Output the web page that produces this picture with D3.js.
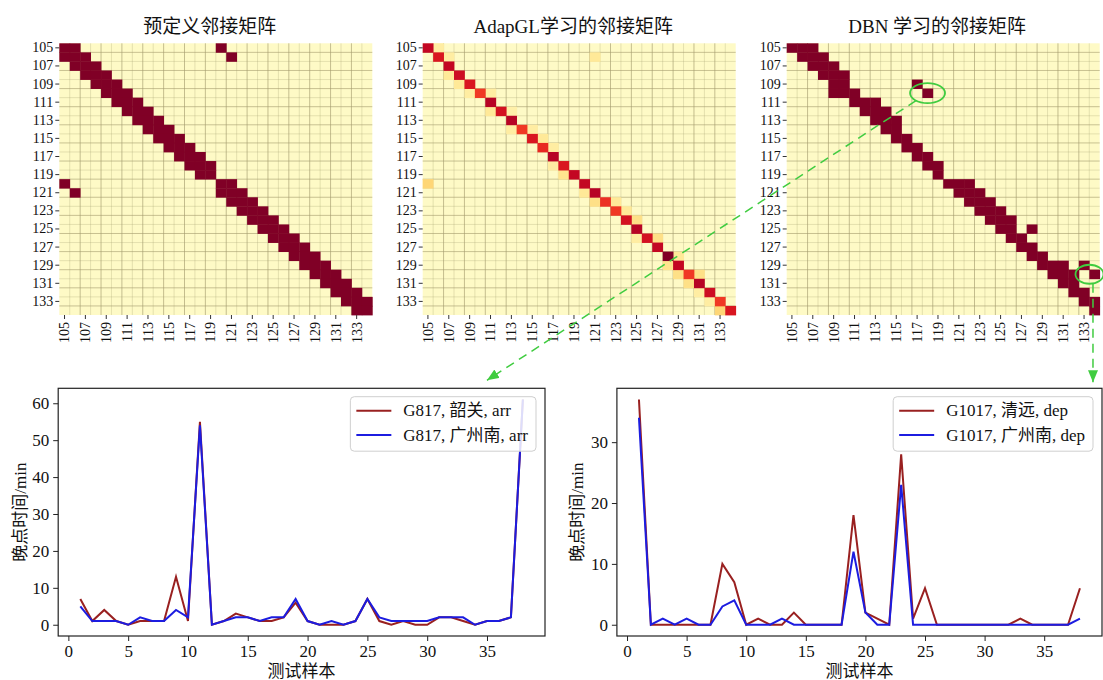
<!DOCTYPE html>
<html><head><meta charset="utf-8">
<script src="https://cdn.jsdelivr.net/npm/d3@7"></script>
<style>
body{margin:0;background:#fff;}
svg{display:block;}
</style></head><body>
<svg id="chart" width="1103" height="680"></svg>
<script>
// ---------------- data ----------------
const nodeIds = [105,106,107,108,109,110,111,112,113,114,115,116,117,118,119,120,121,122,123,124,125,126,127,128,129,130,131,132,133,134];
const tickIds = [105,107,109,111,113,115,117,119,121,123,125,127,129,131,133];

// non-zero columns (by index) per row of the predefined adjacency matrix
const predefinedLinks = [
 [0,1,15],[0,1,2,16],[1,2,3],[2,3,4],[3,4,5],[4,5,6],[5,6,7],[6,7,8],[7,8,9],[8,9,10],
 [9,10,11],[10,11,12],[11,12,13],[12,13,14],[13,14],
 [0,15,16],[1,15,16,17],[16,17,18],[17,18,19],[18,19,20],[19,20,21],[20,21,22],[21,22,23],
 [22,23,24],[23,24,25],[24,25,26],[25,26,27],[26,27,28],[27,28,29],[28,29]
];
// non-zero columns per row of the DBN-learned adjacency matrix
const dbnLinks = [
 [0,1,2],[1,2,3],[2,3,4],[3,4,5],[4,5,12],[4,5,6,13],[6,7,8],[7,8,9],[8,9,10],[9,10],
 [10,11],[11,12],[12,13],[13,14],[14],
 [15,16,17],[16,17,18],[17,18,19],[18,19,20],[19,20,21],[20,21,23],[21,22],[22,23],[23,24],
 [24,25,26,28],[25,26,27,29],[26,27],[27,28],[28,29],[29]
];
// AdapGL-learned weights: diagonal and off-diagonal [row, col, value]
const adapDiag = [0.85,0.78,0.85,0.82,0.78,0.68,0.88,0.8,0.88,0.68,0.78,0.72,0.88,0.78,0.85,
                  0.85,0.88,0.7,0.68,0.8,0.88,0.8,0.85,1.0,0.85,0.68,0.88,0.82,0.68,0.78];
const adapOff = [[0,1,0.12],[1,2,0.12],[1,16,0.15],[3,2,0.15],[4,3,0.15],[5,4,0.12],[5,6,0.12],
 [7,6,0.15],[7,8,0.1],[9,8,0.12],[9,10,0.12],[10,11,0.15],[11,12,0.12],[13,12,0.12],[14,13,0.18],
 [15,0,0.25],[16,15,0.15],[17,16,0.2],[17,18,0.15],[18,19,0.15],[19,20,0.2],[21,20,0.12],[21,22,0.2],
 [23,24,0.15],[24,23,0.18],[25,24,0.2],[25,26,0.2],[26,25,0.2],[27,26,0.12],[28,27,0.12],[29,28,0.25]];

const heatTitles = ["预定义邻接矩阵","AdapGL学习的邻接矩阵","DBN 学习的邻接矩阵"];

const samples = [1,2,3,4,5,6,7,8,9,10,11,12,13,14,15,16,17,18,19,20,21,22,23,24,25,26,27,28,29,30,31,32,33,34,35,36,37,38];
const g817Shaoguan  = [7,1,4,1,0,1,1,1,13,1,55,0,1,3,2,1,1,2,6,1,0,0,0,1,7,1,0,1,0,0,2,2,1,0,1,1,2,61];
const g817Guangzhou = [5,1,1,1,0,2,1,1,4,2,54,0,1,2,2,1,2,2,7,1,0,1,0,1,7,2,1,1,1,1,2,2,2,0,1,1,2,61];
const g1017Qingyuan  = [37,0,0,0,0,0,0,10,7,0,1,0,0,2,0,0,0,0,18,2,1,0,28,1,6,0,0,0,0,0,0,0,1,0,0,0,0,6];
const g1017Guangzhou = [34,0,1,0,1,0,0,3,4,0,0,0,1,0,0,0,0,0,12,2,0,0,23,0,0,0,0,0,0,0,0,0,0,0,0,0,0,1];
const legendLeft  = ["G817, 韶关, arr","G817, 广州南, arr"];
const legendRight = ["G1017, 清远, dep","G1017, 广州南, dep"];
const xTicks = [0,5,10,15,20,25,30,35];
const yTicksLeft = [0,10,20,30,40,50,60];
const yTicksRight = [0,10,20,30];
const yLabel = "晚点时间/min";
const xLabel = "测试样本";
// highlighted DBN cells [row, col]
const highlights = [[5,13],[25,29]];

// ---------------- drawing ----------------
const FONT = '"Liberation Serif","Times New Roman","Noto Sans CJK SC",serif';
const svg = d3.select("#chart");
const color = d3.scaleSequential(d3.interpolateYlOrRd).domain([0,1]);
const RED = "#992020", BLUE = "#1c1ce0", GREEN = "#40cc40";

const heatTop = 43.3, heatBottom = 315, heatW = 313;
const heatLefts = [59.3, 422.7, 786.7];

const linkCells = links => links.flatMap((cols,r)=>cols.map(c=>({r,c,v:1})));
const adapCells = adapOff.map(([r,c,v])=>({r,c,v})).concat(adapDiag.map((v,i)=>({r:i,c:i,v})));
const heatData = [linkCells(predefinedLinks), adapCells, linkCells(dbnLinks)];

const heatScales = [];
heatData.forEach((cells,k)=>{
  const left = heatLefts[k];
  const x = d3.scaleBand().domain(nodeIds).range([left,left+heatW]);
  const y = d3.scaleBand().domain(nodeIds).range([heatTop,heatBottom]);
  heatScales.push({x,y});
  const g = svg.append("g");
  g.append("rect").attr("x",left).attr("y",heatTop).attr("width",heatW)
    .attr("height",heatBottom-heatTop).attr("fill","#fefac6");
  g.selectAll("line.v").data(nodeIds.slice(1)).join("line")
    .attr("x1",d=>x(d)).attr("x2",d=>x(d)).attr("y1",heatTop).attr("y2",heatBottom)
    .attr("stroke","#a29b6c").attr("stroke-width",0.8).attr("stroke-opacity",d=>d%2? 0.8:0.35);
  g.selectAll("line.h").data(nodeIds.slice(1)).join("line")
    .attr("y1",d=>y(d)).attr("y2",d=>y(d)).attr("x1",left).attr("x2",left+heatW)
    .attr("stroke","#a29b6c").attr("stroke-width",0.8).attr("stroke-opacity",d=>d%2? 0.35:0.75);
  g.selectAll("rect.cell").data(cells).join("rect").attr("class","cell")
    .attr("x",d=>x(nodeIds[d.c])).attr("y",d=>y(nodeIds[d.r]))
    .attr("width",x.bandwidth()+0.4).attr("height",y.bandwidth()+0.4)
    .attr("fill",d=>color(d.v));
  const ay = g.append("g").attr("transform",`translate(${left},0)`)
    .call(d3.axisLeft(y).tickValues(tickIds).tickSize(4).tickPadding(2));
  ay.select(".domain").remove();
  ay.attr("font-family",FONT).attr("font-size",14).attr("color","#333");
  ay.selectAll("text").attr("fill","#111");
  const ax = g.append("g").attr("transform",`translate(0,${heatBottom})`)
    .call(d3.axisBottom(x).tickValues(tickIds).tickSize(4).tickPadding(2));
  ax.select(".domain").remove();
  ax.attr("font-family",FONT).attr("font-size",14).attr("color","#333");
  ax.selectAll("text").attr("fill","#111").attr("transform","rotate(-90)")
    .attr("text-anchor","end").attr("x",-7).attr("y",0).attr("dy","0.35em");
  svg.append("text").attr("x",left+heatW/2-6).attr("y",26)
    .attr("text-anchor","middle").attr("dominant-baseline","central")
    .attr("font-family",FONT).attr("font-size",19).attr("fill","#111").text(heatTitles[k]);
});

const axTop = 388.3, axBottom = 636;
function padded(ext){ const m=(ext[1]-ext[0])*0.05; return [ext[0]-m, ext[1]+m]; }

function drawLineChart(cfg){
  const x = d3.scaleLinear().domain(padded(d3.extent(samples))).range([cfg.left,cfg.right]);
  const y = d3.scaleLinear().domain(padded(d3.extent(cfg.series.flat()))).range([axBottom,axTop]);
  const g = svg.append("g");
  g.append("rect").attr("x",cfg.left).attr("y",axTop).attr("width",cfg.right-cfg.left)
    .attr("height",axBottom-axTop).attr("fill","#fff");
  const line = d3.line().x((d,i)=>x(samples[i])).y(d=>y(d));
  cfg.series.forEach((s,i)=>{
    g.append("path").datum(s).attr("d",line).attr("fill","none")
      .attr("stroke",cfg.colors[i]).attr("stroke-width",2).attr("stroke-linejoin","miter");
  });
  g.append("rect").attr("x",cfg.left).attr("y",axTop).attr("width",cfg.right-cfg.left)
    .attr("height",axBottom-axTop).attr("fill","none").attr("stroke","#222").attr("stroke-width",1.2);
  const ax = g.append("g").attr("transform",`translate(0,${axBottom})`)
    .call(d3.axisBottom(x).tickValues(xTicks).tickSize(5).tickPadding(4));
  ax.select(".domain").remove();
  ax.attr("font-family",FONT).attr("font-size",17).attr("color","#222");
  ax.selectAll("text").attr("fill","#111");
  const ay = g.append("g").attr("transform",`translate(${cfg.left},0)`)
    .call(d3.axisLeft(y).tickValues(cfg.yTicks).tickSize(5).tickPadding(4));
  ay.select(".domain").remove();
  ay.attr("font-family",FONT).attr("font-size",17).attr("color","#222");
  ay.selectAll("text").attr("fill","#111");
  g.append("text").attr("transform",`translate(${cfg.ylabelX},${(axTop+axBottom)/2}) rotate(-90)`)
    .attr("text-anchor","middle").attr("dominant-baseline","central")
    .attr("font-family",FONT).attr("font-size",17).attr("fill","#111").text(yLabel);
  g.append("text").attr("x",(cfg.left+cfg.right)/2).attr("y",671)
    .attr("text-anchor","middle").attr("dominant-baseline","central")
    .attr("font-family",FONT).attr("font-size",17).attr("fill","#111").text(xLabel);
  // legend
  const lg = g.append("g");
  const box = lg.append("rect");
  const texts = cfg.legend.map((t,i)=> lg.append("text").attr("font-family",FONT).attr("font-size",17)
      .attr("fill","#111").attr("dominant-baseline","central").text(t));
  const tw = d3.max(texts, t=>t.node().getComputedTextLength());
  const bw = 6+35+12+tw+8, bh = 54.5;
  const bx = cfg.right-9-bw, by = 396.7;
  box.attr("x",bx).attr("y",by).attr("width",bw).attr("height",bh).attr("rx",4)
    .attr("fill","#fff").attr("fill-opacity",0.85).attr("stroke","#cfcfcf").attr("stroke-width",1);
  cfg.legend.forEach((t,i)=>{
    const yy = by+14+i*24.3;
    lg.append("line").attr("x1",bx+6).attr("x2",bx+41).attr("y1",yy).attr("y2",yy)
      .attr("stroke",cfg.colors[i]).attr("stroke-width",2);
    texts[i].attr("x",bx+53).attr("y",yy);
  });
  return {x,y};
}

const leftChart = drawLineChart({left:58.2,right:545,series:[g817Shaoguan,g817Guangzhou],
  colors:[RED,BLUE],yTicks:yTicksLeft,legend:legendLeft,ylabelX:20});
const rightChart = drawLineChart({left:616.9,right:1102,series:[g1017Qingyuan,g1017Guangzhou],
  colors:[RED,BLUE],yTicks:yTicksRight,legend:legendRight,ylabelX:577});

// ---------------- annotations ----------------
const defs = svg.append("defs");
defs.append("marker").attr("id","arr").attr("viewBox","0 0 12 10").attr("refX",12).attr("refY",5)
  .attr("markerWidth",12).attr("markerHeight",10).attr("markerUnits","userSpaceOnUse")
  .attr("orient","auto").append("path").attr("d","M0,0 L12,5 L0,10 Z").attr("fill",GREEN);

const dbn = heatScales[2];
const ann = svg.append("g");
// first highlight -> left chart
{
  const [r,c] = highlights[0];
  const cx = dbn.x(nodeIds[c])+dbn.x.bandwidth()/2, cy = dbn.y(nodeIds[r])+dbn.y.bandwidth()/2;
  const rx = 17.5, ry = 10;
  ann.append("ellipse").attr("cx",cx).attr("cy",cy).attr("rx",rx).attr("ry",ry)
    .attr("fill","none").attr("stroke",GREEN).attr("stroke-width",1.8);
  const tx = leftChart.x(35), ty = axTop-8;
  const ang = Math.atan2((ty-cy)/ry,(tx-cx)/rx);
  const sx = cx+rx*Math.cos(ang), sy = cy+ry*Math.sin(ang);
  ann.append("line").attr("x1",sx).attr("y1",sy).attr("x2",tx).attr("y2",ty)
    .attr("stroke",GREEN).attr("stroke-width",1.5).attr("stroke-dasharray","9,6")
    .attr("marker-end","url(#arr)");
}
// second highlight -> right chart
{
  const [r,c] = highlights[1];
  const cx = dbn.x(nodeIds[c])+dbn.x.bandwidth()/2-5, cy = dbn.y(nodeIds[r])+dbn.y.bandwidth()/2;
  const rx = 14, ry = 9.5;
  ann.append("ellipse").attr("cx",cx).attr("cy",cy).attr("rx",rx).attr("ry",ry)
    .attr("fill","none").attr("stroke",GREEN).attr("stroke-width",1.8);
  const lx = cx+3.5;
  ann.append("line").attr("x1",lx).attr("y1",cy+ry).attr("x2",lx).attr("y2",axTop-6)
    .attr("stroke",GREEN).attr("stroke-width",1.5).attr("stroke-dasharray","9,6")
    .attr("marker-end","url(#arr)");
}
</script>
</body></html>
